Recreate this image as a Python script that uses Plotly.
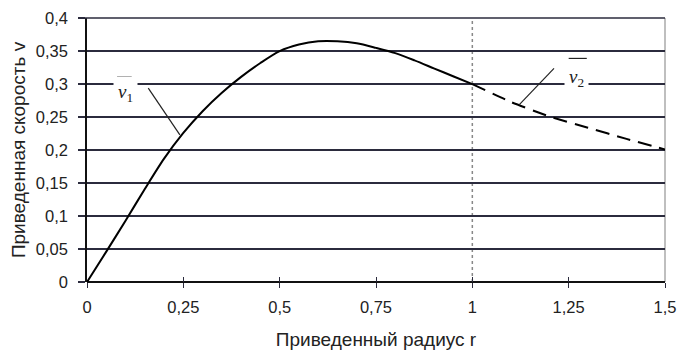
import plotly.graph_objects as go

# Data
r1 = [0, 0.05, 0.1, 0.15, 0.2, 0.25, 0.3, 0.35, 0.4, 0.45, 0.5, 0.55, 0.6, 0.65, 0.7, 0.75, 0.8, 0.85, 0.9, 0.95, 1.0]
v1 = [0, 0.046, 0.093, 0.141, 0.187, 0.226, 0.259, 0.287, 0.311, 0.332, 0.350, 0.360, 0.365, 0.365, 0.362, 0.355, 0.347, 0.336, 0.324, 0.312, 0.300]
r2 = [1.0, 1.1, 1.2, 1.3, 1.4, 1.5]
v2 = [0.300, 0.273, 0.251, 0.234, 0.217, 0.201]

x_ticks = [0, 0.25, 0.5, 0.75, 1, 1.25, 1.5]
x_ticktext = ["0", "0,25", "0,5", "0,75", "1", "1,25", "1,5"]
y_ticks = [0, 0.05, 0.1, 0.15, 0.2, 0.25, 0.3, 0.35, 0.4]
y_ticktext = ["0", "0,05", "0,1", "0,15", "0,2", "0,25", "0,3", "0,35", "0,4"]

FONT = "Liberation Sans, Arial, sans-serif"
GRID = "#2b2b3d"

fig = go.Figure()
fig.add_trace(go.Scatter(x=r1, y=v1, mode="lines",
                         line=dict(color="black", width=2, shape="spline", smoothing=0.8),
                         showlegend=False, hoverinfo="skip"))
fig.add_trace(go.Scatter(x=r2, y=v2, mode="lines",
                         line=dict(color="black", width=2, dash="14px,8px", shape="spline", smoothing=0.5),
                         showlegend=False, hoverinfo="skip"))
# invisible trace carrying the second x axis (inside half of the crossing ticks)
fig.add_trace(go.Scatter(x=[0, 1.5], y=[None, None], xaxis="x2", mode="lines",
                         showlegend=False, hoverinfo="skip"))

# dotted vertical line at r = 1
fig.add_shape(type="line", xref="x", yref="paper", x0=1, x1=1, y0=0, y1=1,
              line=dict(color="#888888", width=1.5, dash="dot"), layer="below")
# right border
fig.add_shape(type="line", xref="paper", yref="paper", x0=1, x1=1, y0=0, y1=1,
              line=dict(color="#aaaaaa", width=1.5), layer="below")
# top gridline / border (with its outside tick)
fig.add_shape(type="line", xref="paper", yref="paper", x0=-0.012, x1=1, y0=1, y1=1,
              line=dict(color=GRID, width=1.5), layer="above")

# leader lines
fig.add_shape(type="line", xref="x", yref="y", x0=0.159, y0=0.294, x1=0.241, y1=0.223,
              line=dict(color="#222", width=1.2))
fig.add_shape(type="line", xref="x", yref="y", x0=1.212, y0=0.324, x1=1.122, y1=0.269,
              line=dict(color="#222", width=1.2))

# labels with overlines
fig.add_annotation(x=0.1, y=0.287, xref="x", yref="y",
                   text="<i>v</i><sub>1</sub>", showarrow=False, bgcolor="white", borderpad=4,
                   font=dict(family="Liberation Serif, serif", size=19, color="#222"))
fig.add_shape(type="line", xref="x", yref="y", x0=0.078, x1=0.116, y0=0.311, y1=0.311,
              line=dict(color="#222", width=1.2))

fig.add_annotation(x=1.27, y=0.309, xref="x", yref="y",
                   text="<i>v</i><sub>2</sub>", showarrow=False, bgcolor="white", borderpad=4,
                   font=dict(family="Liberation Serif, serif", size=19, color="#222"))
fig.add_shape(type="line", xref="x", yref="y", x0=1.25, x1=1.297, y0=0.339, y1=0.339,
              line=dict(color="#222", width=1.2))

fig.update_layout(
    width=689, height=356,
    margin=dict(l=79, r=32, t=10, b=82),
    paper_bgcolor="white", plot_bgcolor="white",
    font=dict(family=FONT, size=16.5, color="#222"),
    xaxis=dict(range=[0, 1.5], tickvals=x_ticks, ticktext=x_ticktext,
               showgrid=False, zeroline=False, showline=False, automargin=False,
               ticks="outside", ticklen=5, tickcolor=GRID, tickwidth=1.2, ticklabelstandoff=5,
               ticklabeloverflow="allow",
               title=dict(text="Приведенный радиус r", font=dict(size=19), standoff=17)),
    xaxis2=dict(range=[0, 1.5], tickvals=x_ticks, overlaying="x", anchor="y", side="bottom",
                showticklabels=False, showgrid=False, zeroline=False, showline=False,
                automargin=False, ticks="inside", ticklen=5, tickcolor=GRID, tickwidth=1.2),
    yaxis=dict(range=[0, 0.4003], tickvals=y_ticks, ticktext=y_ticktext,
               showgrid=True, gridcolor=GRID, gridwidth=1.5, automargin=False,
               zeroline=True, zerolinecolor="#111", zerolinewidth=1.5,
               showline=True, linecolor="#111", linewidth=1.5, mirror=False,
               ticks="outside", ticklen=7, tickcolor=GRID, tickwidth=1.5, ticklabelstandoff=7,
               ticklabeloverflow="allow",
               title=dict(text="Приведенная скорость v", font=dict(size=19), standoff=8)),
)

fig.write_html("out.html")
